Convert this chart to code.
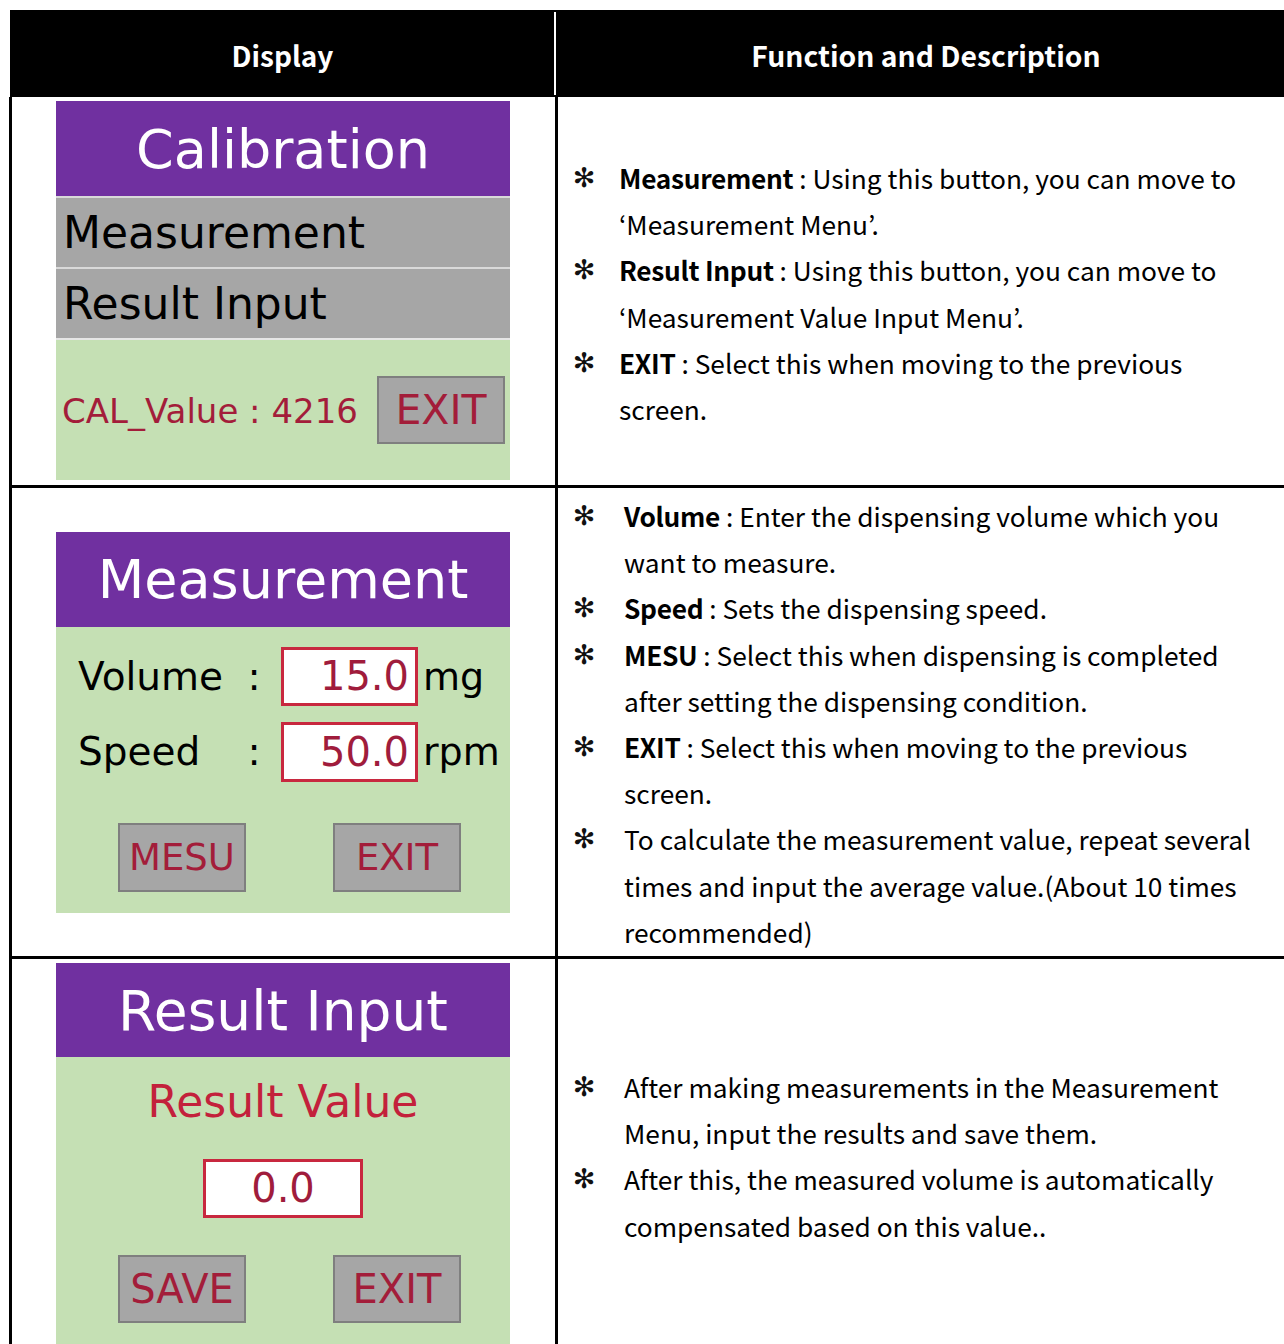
<!DOCTYPE html>
<html>
<head>
<meta charset="utf-8">
<script src="https://cdn.jsdelivr.net/npm/chart.js@4.4.1/dist/chart.umd.min.js"></script>
<style>
  html,body{margin:0;padding:0;background:#fff;}
  body{width:1284px;height:1344px;position:relative;overflow:hidden;}
  .a{position:absolute;box-sizing:border-box;white-space:nowrap;}
  .panel{font-family:"DejaVu Sans",Verdana,sans-serif;}
  .desc{font-family:"Noto Sans CJK KR","Noto Sans",sans-serif;font-size:26.3px;color:#000;line-height:46px;height:46px;}
  .desc b{font-weight:700;letter-spacing:-0.3px;}
  .btn{background:#a6a6a6;border:2px solid #7f7f7f;color:#a31d3a;text-align:center;}
  .box{background:#fff;border:3px solid #c8283f;color:#a01c3c;}
</style>
</head>
<body>
<script>
// ---- content ----
const headers = ["Display", "Function and Description"];
const panelTitles = ["Calibration", "Measurement", "Result Input"];
const calMenu = ["Measurement", "Result Input"];
const calValueLabel = "CAL_Value : 4216";
const measLabels = ["Volume", "Speed"];
const measValues = ["15.0", "50.0"];
const measUnits = ["mg", "rpm"];
const resultLabel = "Result Value";
const resultValue = "0.0";
const buttons1 = ["EXIT"];
const buttons2 = ["MESU", "EXIT"];
const buttons3 = ["SAVE", "EXIT"];
const bullet = "\u273B";
// each line: [bullet?, bold part, normal part]
const desc1 = [
  [true, "Measurement", " : Using this button, you can move to"],
  [false, "", "\u2018Measurement Menu\u2019."],
  [true, "Result Input", " : Using this button, you can move to"],
  [false, "", "\u2018Measurement Value Input Menu\u2019."],
  [true, "EXIT", " : Select this when moving to the previous"],
  [false, "", "screen."]
];
const desc2 = [
  [true, "Volume", " : Enter the dispensing volume which you"],
  [false, "", "want to measure."],
  [true, "Speed", " : Sets the dispensing speed."],
  [true, "MESU", " : Select this when dispensing is completed"],
  [false, "", "after setting the dispensing condition."],
  [true, "EXIT", " : Select this when moving to the previous"],
  [false, "", "screen."],
  [true, "", "To calculate the measurement value, repeat several"],
  [false, "", "times and input the average value.(About 10 times"],
  [false, "", "recommended)"]
];
const desc3 = [
  [true, "", "After making measurements in the Measurement"],
  [false, "", "Menu, input the results and save them."],
  [true, "", "After this, the measured volume is automatically"],
  [false, "", "compensated based on this value.."]
];

// ---- layout helpers ----
const root = document.body;
function el(x, y, w, h, style, text, cls) {
  const d = document.createElement('div');
  d.className = 'a' + (cls ? ' ' + cls : '');
  d.style.left = x + 'px'; d.style.top = y + 'px';
  if (w != null) d.style.width = w + 'px';
  if (h != null) d.style.height = h + 'px';
  Object.assign(d.style, style || {});
  if (text != null) d.textContent = text;
  root.appendChild(d);
  return d;
}
function ctext(cx, cy, text, size, color, extra) {
  return el(cx - 300, cy - size, 600, size * 2,
    Object.assign({fontSize: size + 'px', lineHeight: (size * 2) + 'px', color: color, textAlign: 'center'}, extra || {}),
    text, 'panel');
}
function ltext(x, cy, text, size, color) {
  return el(x, cy - size, null, size * 2,
    {fontSize: size + 'px', lineHeight: (size * 2) + 'px', color: color}, text, 'panel');
}
function btn(x, y, w, h, text, size) {
  el(x, y, w, h, {fontSize: size + 'px', lineHeight: (h - 4) + 'px'}, text, 'btn panel');
}

// ---- header ----
el(10, 10, 1274, 87, {background: '#000'});
el(554, 12, 2, 83, {background: '#fff'});
el(10, 10, 545, 87, {color: '#fff', fontFamily: '"Noto Sans CJK KR","Noto Sans",sans-serif', fontWeight: '700', fontSize: '28px', lineHeight: '90px', textAlign: 'center'}, headers[0]);
el(557, 10, 738, 87, {color: '#fff', fontFamily: '"Noto Sans CJK KR","Noto Sans",sans-serif', fontWeight: '700', fontSize: '28.3px', lineHeight: '90px', textAlign: 'center'}, headers[1]);

// ---- table grid ----
el(9, 97, 3, 1247, {background: '#000'});
el(555, 97, 3, 1247, {background: '#000'});
el(10, 485, 1274, 3, {background: '#000'});
el(10, 956, 1274, 3, {background: '#000'});

const PX = 56, PW = 454, PC = PX + PW / 2;
const purple = '#7030a0', green = '#c5e0b4', gray = '#a6a6a6';
const red = '#a31d3a';

// ---- panel 1 : Calibration ----
el(PX, 101, PW, 95, {background: purple});
ctext(PC, 150, panelTitles[0], 54, '#fff');
el(PX, 196, PW, 2, {background: '#d9d9d9'});
el(PX, 198, PW, 69, {background: gray});
ltext(63, 233, calMenu[0], 44, '#000');
el(PX, 267, PW, 2, {background: '#d9d9d9'});
el(PX, 269, PW, 69, {background: gray});
ltext(63, 304, calMenu[1], 44, '#000');
el(PX, 338, PW, 2, {background: '#e6e6e6'});
el(PX, 340, PW, 140, {background: green});
ltext(62, 411, calValueLabel, 34, red);
btn(377, 376, 128, 68, buttons1[0], 41);

// ---- panel 2 : Measurement ----
el(PX, 532, PW, 95, {background: purple});
ctext(PC, 580, panelTitles[1], 54, '#fff');
el(PX, 627, PW, 286, {background: green});
const rowsY = [[647, 706], [722, 782]];
measLabels.forEach((lab, i) => {
  const cy = (rowsY[i][0] + rowsY[i][1]) / 2;
  ltext(78, cy, lab, 39, '#000');
  ctext(254, cy, ':', 39, '#000');
  el(281, rowsY[i][0], 137, rowsY[i][1] - rowsY[i][0],
    {fontSize: '40px', lineHeight: (rowsY[i][1] - rowsY[i][0] - 6) + 'px', textAlign: 'right', paddingRight: '6px'},
    measValues[i], 'box panel');
  ltext(423, cy, measUnits[i], 38, '#000');
});
btn(118, 823, 128, 69, buttons2[0], 37);
btn(333, 823, 128, 69, buttons2[1], 37);

// ---- panel 3 : Result Input ----
el(PX, 963, PW, 94, {background: purple});
ctext(PC, 1011, panelTitles[2], 55, '#fff');
el(PX, 1057, PW, 287, {background: green});
ctext(PC, 1102, resultLabel, 44, '#c3213b');
el(203, 1159, 160, 59, {fontSize: '40px', lineHeight: '53px', textAlign: 'center'}, resultValue, 'box panel');
btn(118, 1255, 128, 68, buttons3[0], 40);
btn(333, 1255, 128, 68, buttons3[1], 40);

// ---- descriptions ----
function descBlock(lines, startY, textX) {
  lines.forEach((ln, i) => {
    const cy = startY + i * 46.2 - 1;
    if (ln[0]) {
      el(569, cy - 23, 30, 46, {fontFamily: '"DejaVu Sans",sans-serif', fontSize: '27px', lineHeight: '46px', textAlign: 'center', fontWeight: '700', color: '#111'}, bullet);
    }
    const d = el(textX, cy - 23, null, 46, {}, null, 'desc');
    if (ln[1]) { const b = document.createElement('b'); b.textContent = ln[1]; d.appendChild(b); }
    d.appendChild(document.createTextNode(ln[2]));
  });
}
descBlock(desc1, 179, 619);
descBlock(desc2, 517, 624);
descBlock(desc3, 1088, 624);
</script>
</body>
</html>
